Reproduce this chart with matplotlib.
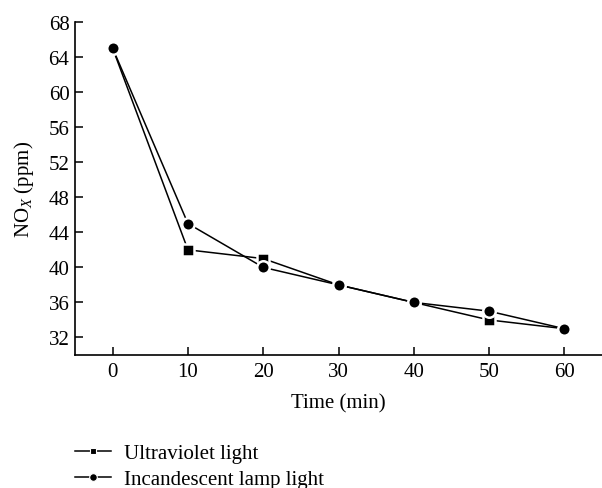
import matplotlib
matplotlib.use("Agg")
import matplotlib.pyplot as plt
from matplotlib.lines import Line2D

plt.rcParams['font.family'] = ['Liberation Serif', 'DejaVu Serif']
plt.rcParams['mathtext.fontset'] = 'custom'
plt.rcParams['mathtext.rm'] = 'Liberation Serif'
plt.rcParams['mathtext.it'] = 'Liberation Serif:italic'

time_min = [0, 10, 20, 30, 40, 50, 60]
uv_nox = [65, 42, 41, 38, 36, 34, 33]
incandescent_nox = [65, 45, 40, 38, 36, 35, 33]
series_labels = ["Ultraviolet light", "Incandescent lamp light"]
y_ticks = [32, 36, 40, 44, 48, 52, 56, 60, 64, 68]

FS = 15

fig = plt.figure(figsize=(6.02, 4.89), dpi=100)
ax = fig.add_axes([0.1246, 0.272, 0.8754, 0.681])

common = dict(color='black', linewidth=1.1, markeredgecolor='white',
              markeredgewidth=1.8, markerfacecolor='black', clip_on=False)
ax.plot(time_min, uv_nox, marker='s', markersize=8, **common)
ax.plot(time_min, incandescent_nox, marker='o', markersize=9, **common)

ax.set_xlim(-5, 65)
ax.set_ylim(30, 68)
ax.set_xticks(time_min)
ax.set_yticks(y_ticks)
ax.spines['top'].set_visible(False)
ax.spines['right'].set_visible(False)
ax.spines['left'].set_bounds(30, 68)
for s in ('left', 'bottom'):
    ax.spines[s].set_linewidth(1.2)
ax.tick_params(direction='in', length=6, width=1.1, labelsize=FS)
ax.tick_params(axis='x', pad=5)
ax.tick_params(axis='y', pad=4)

ax.set_xlabel("Time (min)", fontsize=FS, labelpad=9)
ax.set_ylabel("NO$_{\\mathit{X}}$ (ppm)", fontsize=FS, labelpad=9)

handles = [
    Line2D([], [], color='black', linewidth=1.1, marker='s', markersize=4.5,
           markerfacecolor='black', markeredgecolor='white', markeredgewidth=0.8),
    Line2D([], [], color='black', linewidth=1.1, marker='o', markersize=5.5,
           markerfacecolor='black', markeredgecolor='white', markeredgewidth=0.8),
]
fig.legend(handles, series_labels, loc='upper left', bbox_to_anchor=(0.111, 0.108),
           frameon=False, fontsize=FS, handlelength=1.7, handletextpad=0.63,
           labelspacing=0.32, borderaxespad=0)

fig.savefig("out.png", dpi=100)
